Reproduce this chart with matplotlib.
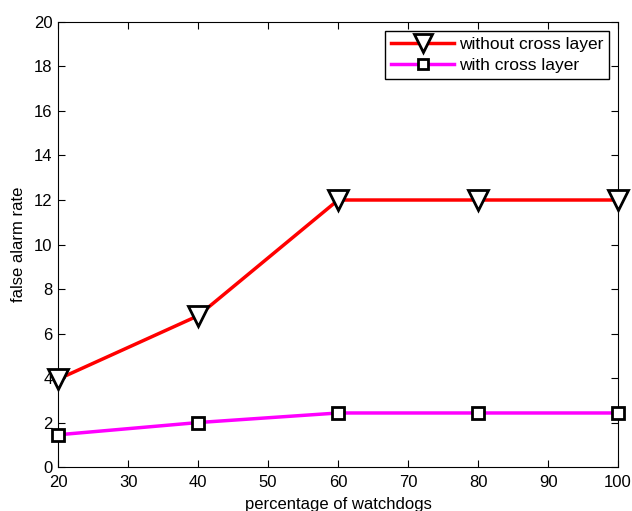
import matplotlib.pyplot as plt

watchdogs = [20, 40, 60, 80, 100]
without_cross = [3.95, 6.8, 12.0, 12.0, 12.0]
with_cross = [1.45, 2.0, 2.43, 2.43, 2.43]

plt.rcParams['font.family'] = ['Liberation Sans', 'DejaVu Sans']

fig = plt.figure(figsize=(6.32, 5.11), dpi=100)
ax = fig.add_axes([0.092, 0.086, 0.886, 0.871])

ax.plot(watchdogs, without_cross, color='red', lw=2.5, marker='v', ms=15,
        mfc='white', mec='black', mew=2, label='without cross layer', clip_on=False, zorder=3)
ax.plot(watchdogs, with_cross, color='magenta', lw=2.5, marker='s', ms=8,
        mfc='white', mec='black', mew=2, label='with cross layer', clip_on=False, zorder=3)

ax.set_xlim(20, 100)
ax.set_ylim(0, 20)
ax.set_xticks(range(20, 101, 10))
ax.set_yticks(range(0, 21, 2))
ax.tick_params(direction='in', top=True, right=True, labelsize=12, length=5)
ax.tick_params(axis='x', pad=6)
ax.tick_params(axis='y', pad=4)
ax.set_xlabel('percentage of watchdogs', fontsize=12, labelpad=5)
ax.set_ylabel('false alarm rate', fontsize=12, labelpad=6)

leg = ax.legend(loc='upper right', fontsize=12.5, fancybox=False, edgecolor='black',
                framealpha=1, borderaxespad=0.5, handlelength=3.6, borderpad=0.35,
                labelspacing=0.35, handletextpad=0.3, markerscale=0.85)
leg.get_frame().set_linewidth(1)

fig.savefig('out.png', dpi=100)
